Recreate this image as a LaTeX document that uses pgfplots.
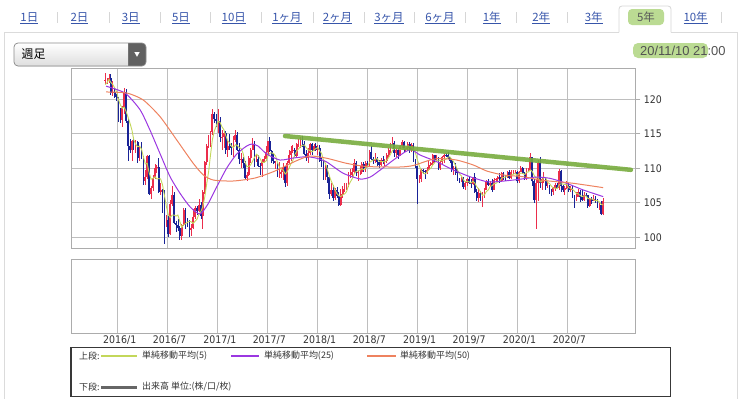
\documentclass[border=0pt]{standalone}
\usepackage{pgfplots}
\pgfplotsset{compat=1.18}
\usepackage{pgfplotstable}
\usepackage{fontspec}
\setmainfont{Liberation Sans}
\newfontfamily\jp{Noto Sans CJK JP}
\newfontfamily\cond{DejaVu Sans Condensed}
\definecolor{candred}{RGB}{235,45,75}
\definecolor{candblue}{RGB}{25,35,150}
\definecolor{smaA}{RGB}{195,215,90}
\definecolor{smaB}{RGB}{155,55,225}
\definecolor{smaC}{RGB}{238,130,95}
\definecolor{trend}{RGB}{120,172,62}
\definecolor{gridc}{RGB}{190,190,190}
\definecolor{framec}{RGB}{172,172,172}
\definecolor{tabblue}{RGB}{55,85,170}
\definecolor{hl}{RGB}{170,210,120}

\pgfplotstableread{
w o h l c
1 122.6 123.8 122.2 122.8
2 122.8 123.1 122.2 122.8
3 122.8 123.7 122.3 123.1
4 123.1 123.6 120.6 120.9
5 120.9 122.6 120.5 121.1
6 121.1 121.5 120.2 120.3
7 120.3 120.7 119.8 120.2
8 120.2 120.4 116.7 117.2
9 117.2 118.8 116.5 117.0
10 117.0 119.0 115.98 118.8
11 118.8 121.7 117.8 121.1
12 121.1 121.5 116.5 116.9
13 116.9 117.3 111.0 113.2
14 113.2 114.2 112.2 112.6
15 112.6 114.1 111.0 113.9
16 113.9 114.6 112.7 113.8
17 113.8 114.1 112.2 113.8
18 113.8 114.0 110.7 111.5
19 111.5 113.3 111.0 113.1
20 113.1 113.8 111.4 111.7
21 111.7 111.8 107.6 108.1
22 108.1 109.8 107.6 108.8
23 108.8 111.9 108.5 111.8
24 111.8 111.9 106.1 106.3
25 106.3 107.5 105.55 107.1
26 107.1 109.1 106.7 108.6
27 108.6 110.6 108.5 110.1
28 110.1 110.5 109.3 110.2
29 110.2 111.45 106.4 106.5
30 106.5 107.9 106.2 106.9
31 106.9 107.0 103.55 104.2
32 104.2 106.8 99.0 102.2
33 102.2 103.3 101.5 102.5
34 102.5 103.1 99.99 100.5
35 100.5 105.4 100.4 104.9
36 104.9 107.5 104.6 106.1
37 106.1 106.5 101.9 102.1
38 102.1 102.3 100.7 101.8
39 101.8 102.7 100.9 101.3
40 101.3 101.6 99.55 100.2
41 100.2 102.0 99.6 101.8
42 101.8 104.3 101.6 104.0
43 104.0 104.2 101.2 102.6
44 102.6 102.8 101.5 102.3
45 102.3 102.5 100.1 101.0
46 101.0 101.9 100.2 101.3
47 101.3 104.1 101.2 102.9
48 102.9 104.6 102.7 104.2
49 104.2 104.5 103.3 103.8
50 103.8 105.5 103.6 104.7
51 104.7 105.1 102.6 103.1
52 103.1 106.9 101.2 106.6
53 106.6 111.0 106.3 110.9
54 110.9 113.5 110.5 113.2
55 113.2 114.8 112.9 113.5
56 113.5 115.4 113.1 115.3
57 115.3 118.66 114.8 117.9
58 117.9 118.2 116.6 117.1
59 117.1 117.8 116.0 116.9
60 116.9 118.6 115.1 116.9
61 116.9 117.5 113.8 114.5
62 114.5 115.6 112.6 114.6
63 114.6 115.4 112.9 115.1
64 115.1 115.4 112.1 112.6
65 112.6 113.9 111.6 113.2
66 113.2 114.9 112.6 112.9
67 112.9 113.6 111.9 112.1
68 112.1 114.7 111.7 114.1
69 114.1 115.5 113.8 114.8
70 114.8 115.2 112.6 112.7
71 112.7 113.6 110.6 111.3
72 111.3 112.2 110.1 111.4
73 111.4 111.6 110.1 110.8
74 110.8 111.0 108.5 108.6
75 108.6 109.5 108.1 109.0
76 109.0 111.8 108.9 111.5
77 111.5 112.9 110.8 112.7
78 112.7 114.4 112.6 113.4
79 113.4 114.0 110.2 111.3
80 111.3 112.1 110.9 111.3
81 111.3 111.9 110.2 110.4
82 110.4 110.8 109.1 110.3
83 110.3 111.4 108.8 110.9
84 110.9 111.8 110.8 111.3
85 111.3 113.2 111.1 112.4
86 112.4 114.0 111.8 113.9
87 113.9 114.5 112.3 112.5
88 112.5 112.7 110.7 111.1
89 111.1 112.2 110.6 110.7
90 110.7 111.1 109.9 110.7
91 110.7 110.9 108.7 109.2
92 109.2 110.9 108.6 109.2
93 109.2 109.8 108.6 109.4
94 109.4 110.7 108.3 110.2
95 110.2 110.3 107.3 107.8
96 107.8 111.0 107.5 110.8
97 110.8 112.7 110.6 112.0
98 112.0 113.3 111.1 112.5
99 112.5 113.4 112.2 112.6
100 112.6 112.9 111.7 111.8
101 111.8 113.6 111.6 113.5
102 113.5 114.3 113.1 113.7
103 113.7 114.5 113.0 114.1
104 114.1 114.7 113.1 113.5
105 113.5 113.9 112.0 112.1
106 112.1 112.7 111.1 111.5
107 111.5 113.0 110.8 112.2
108 112.2 113.6 112.0 113.5
109 113.5 113.7 112.0 112.6
110 112.6 113.5 112.5 113.3
111 113.3 113.7 112.5 112.7
112 112.7 113.4 112.0 113.0
113 113.0 113.4 110.9 111.0
114 111.0 111.5 110.2 110.8
115 110.8 111.0 108.3 108.6
116 108.6 110.5 108.3 110.2
117 110.2 110.5 107.9 108.8
118 108.8 108.9 105.55 106.3
119 106.3 107.9 106.0 106.9
120 106.9 107.6 105.25 105.7
121 105.7 107.1 105.4 106.8
122 106.8 107.3 105.7 106.0
123 106.0 106.6 104.6 104.7
124 104.7 107.0 104.6 106.3
125 106.3 107.5 105.7 107.0
126 107.0 107.8 106.6 107.4
127 107.4 107.9 106.9 107.6
128 107.6 109.5 107.3 109.0
129 109.0 109.9 108.6 109.1
130 109.1 110.0 108.7 109.4
131 109.4 111.4 109.3 110.8
132 110.8 111.1 108.9 109.4
133 109.4 109.8 108.1 109.5
134 109.5 110.3 109.1 109.5
135 109.5 110.9 109.2 110.6
136 110.6 110.9 109.4 110.0
137 110.0 111.0 109.4 110.8
138 110.8 111.1 110.3 110.5
139 110.5 112.6 110.2 112.4
140 112.4 113.2 111.2 111.4
141 111.4 111.6 110.6 111.0
142 111.0 112.2 110.8 111.3
143 111.3 111.6 110.3 110.9
144 110.9 111.2 110.1 110.5
145 110.5 111.5 110.3 111.2
146 111.2 111.8 110.6 111.0
147 111.0 111.4 110.4 111.0
148 111.0 112.2 110.8 112.0
149 112.0 112.9 111.7 112.6
150 112.6 113.7 112.2 113.7
151 113.7 114.55 113.4 113.7
152 113.7 113.9 111.6 112.2
153 112.2 112.8 111.6 112.6
154 112.6 112.9 111.4 111.9
155 111.9 113.4 111.8 113.2
156 113.2 114.1 112.9 113.8
157 113.8 114.0 112.3 112.8
158 112.8 113.0 112.3 112.9
159 112.9 113.8 112.6 113.5
160 113.5 113.8 112.2 112.7
161 112.7 113.6 112.3 113.4
162 113.4 113.7 110.9 111.2
163 111.2 111.4 110.0 110.3
164 110.3 110.4 104.9 108.5
165 108.5 109.0 107.8 108.5
166 108.5 109.9 108.0 109.8
167 109.8 109.9 109.2 109.6
168 109.6 109.8 108.5 109.5
169 109.5 110.2 109.2 109.7
170 109.7 111.1 109.6 110.5
171 110.5 110.9 110.3 110.7
172 110.7 112.1 110.4 111.9
173 111.9 112.0 110.8 111.2
174 111.2 111.9 110.9 111.5
175 111.5 111.7 109.8 110.1
176 110.1 111.0 109.7 110.9
177 110.9 111.8 110.6 111.7
178 111.7 112.1 110.8 112.0
179 112.0 112.2 111.6 111.9
180 111.9 112.4 111.4 111.6
181 111.6 111.7 110.8 111.1
182 111.1 111.2 109.5 109.9
183 109.9 110.3 109.0 110.1
184 110.1 110.7 109.1 109.3
185 109.3 109.9 108.2 108.3
186 108.3 108.6 107.8 108.2
187 108.2 108.8 108.0 108.6
188 108.6 108.8 107.0 107.3
189 107.3 108.1 106.8 107.9
190 107.9 108.6 107.5 108.5
191 108.5 108.9 107.8 107.9
192 107.9 108.4 107.2 107.7
193 107.7 108.8 107.6 108.7
194 108.7 109.3 106.5 106.6
195 106.6 107.0 105.3 105.7
196 105.7 107.1 105.1 106.4
197 106.4 106.7 105.3 105.4
198 105.4 106.6 104.4 106.3
199 106.3 107.2 105.7 106.9
200 106.9 108.3 106.8 108.1
201 108.1 108.4 107.5 107.6
202 107.6 108.2 107.3 107.9
203 107.9 108.5 106.5 106.9
204 106.9 108.6 106.8 108.3
205 108.3 108.6 108.1 108.4
206 108.4 108.9 108.2 108.7
207 108.7 109.3 107.9 108.2
208 108.2 109.5 108.0 109.3
209 109.3 109.5 108.3 108.8
210 108.8 109.1 108.2 108.7
211 108.7 109.6 108.6 109.5
212 109.5 109.7 108.4 108.6
213 108.6 109.7 108.4 109.4
214 109.4 109.7 109.2 109.4
215 109.4 109.7 109.2 109.4
216 109.4 109.6 107.9 108.1
217 108.1 109.6 107.8 109.5
218 109.5 110.3 109.4 110.1
219 110.1 110.2 109.2 109.3
220 109.3 109.5 108.3 108.4
221 108.4 110.0 108.3 109.8
222 109.8 110.1 109.6 109.8
223 109.8 112.2 109.7 111.6
224 111.6 111.7 107.5 108.1
225 108.1 108.5 105.0 105.4
226 105.4 108.4 101.2 107.9
227 107.9 111.2 105.2 110.8
228 110.8 111.7 107.2 107.9
229 107.9 108.7 106.9 108.5
230 108.5 109.4 107.9 108.5
231 108.5 108.7 106.9 107.5
232 107.5 108.1 107.2 107.5
233 107.5 107.6 106.35 106.9
234 106.9 107.0 106.0 106.6
235 106.6 107.3 106.1 107.1
236 107.1 107.9 106.7 107.6
237 107.6 107.9 107.1 107.1
238 107.1 109.85 106.9 109.6
239 109.6 109.8 106.6 107.4
240 107.4 107.6 106.6 106.9
241 106.9 107.4 106.1 107.2
242 107.2 108.2 107.0 107.5
243 107.5 107.8 106.6 106.9
244 106.9 107.5 106.6 107.0
245 107.0 107.4 105.7 106.1
246 106.1 106.2 104.2 105.9
247 105.9 106.5 105.3 105.9
248 105.9 107.0 105.8 106.6
249 106.6 106.9 105.1 105.8
250 105.8 107.05 105.2 105.4
251 105.4 106.5 105.2 106.2
252 106.2 106.4 105.9 106.1
253 106.1 106.2 104.3 104.6
254 104.6 105.7 104.4 105.6
255 105.6 105.8 104.9 105.3
256 105.3 106.1 105.2 105.6
257 105.6 106.0 105.0 105.4
258 105.4 105.5 104.3 104.7
259 104.7 105.0 104.0 104.7
260 104.7 105.3 103.2 103.4
261 103.4 105.65 103.2 105.3
}\ohlc

\pgfplotstableread{
w s
1 122.14
2 122.40
3 122.90
4 122.44
5 122.14
6 121.64
7 121.12
8 119.94
9 119.16
10 118.70
11 118.86
12 118.20
13 117.40
14 116.52
15 115.54
16 114.08
17 113.46
18 113.12
19 113.22
20 112.78
21 111.64
22 110.64
23 110.70
24 109.34
25 108.42
26 108.52
27 108.78
28 108.46
29 108.50
30 108.46
31 107.58
32 106.00
33 104.46
34 103.26
35 102.86
36 103.24
37 103.22
38 103.08
39 103.24
40 102.30
41 101.44
42 101.82
43 101.98
44 102.18
45 102.34
46 102.24
47 102.02
48 102.34
49 102.64
50 103.38
51 103.74
52 104.48
53 105.82
54 107.70
55 109.46
56 111.90
57 114.16
58 115.40
59 116.14
60 116.82
61 116.66
62 116.00
63 115.60
64 114.74
65 114.00
66 113.68
67 113.18
68 112.98
69 113.42
70 113.32
71 113.00
72 112.86
73 112.20
74 110.96
75 110.22
76 110.26
77 110.52
78 111.04
79 111.58
80 112.04
81 111.82
82 111.34
83 110.84
84 110.84
85 111.06
86 111.76
87 112.20
88 112.24
89 112.12
90 111.78
91 110.84
92 110.18
93 109.84
94 109.74
95 109.16
96 109.48
97 110.04
98 110.66
99 111.14
100 111.94
101 112.48
102 112.82
103 113.14
104 113.32
105 113.38
106 112.98
107 112.68
108 112.56
109 112.38
110 112.62
111 112.86
112 113.02
113 112.52
114 112.16
115 111.22
116 110.72
117 109.88
118 108.94
119 108.16
120 107.58
121 106.90
122 106.34
123 106.02
124 105.90
125 106.16
126 106.28
127 106.60
128 107.46
129 108.02
130 108.50
131 109.18
132 109.54
133 109.64
134 109.72
135 109.96
136 109.80
137 110.08
138 110.28
139 110.86
140 111.02
141 111.22
142 111.32
143 111.40
144 111.02
145 110.98
146 110.98
147 110.92
148 111.14
149 111.56
150 112.06
151 112.60
152 112.84
153 112.96
154 112.82
155 112.72
156 112.74
157 112.86
158 112.92
159 113.24
160 113.14
161 113.06
162 112.74
163 112.22
164 111.22
165 110.38
166 109.66
167 109.34
168 109.18
169 109.42
170 109.82
171 110.00
172 110.46
173 110.80
174 111.16
175 111.08
176 111.12
177 111.08
178 111.24
179 111.32
180 111.62
181 111.66
182 111.30
183 110.92
184 110.40
185 109.74
186 109.16
187 108.90
188 108.34
189 108.06
190 108.10
191 108.04
192 107.86
193 108.14
194 107.88
195 107.32
196 107.02
197 106.56
198 106.08
199 106.14
200 106.62
201 106.86
202 107.36
203 107.48
204 107.76
205 107.82
206 108.04
207 108.10
208 108.58
209 108.68
210 108.74
211 108.90
212 108.98
213 109.00
214 109.12
215 109.26
216 108.98
217 109.16
218 109.30
219 109.28
220 109.08
221 109.42
222 109.48
223 109.78
224 109.54
225 108.94
226 108.56
227 108.76
228 108.02
229 108.10
230 108.72
231 108.64
232 107.98
233 107.78
234 107.40
235 107.12
236 107.14
237 107.06
238 107.60
239 107.76
240 107.72
241 107.64
242 107.72
243 107.18
244 107.10
245 106.94
246 106.68
247 106.36
248 106.30
249 106.06
250 105.92
251 105.98
252 106.02
253 105.62
254 105.58
255 105.56
256 105.44
257 105.30
258 105.32
259 105.14
260 104.76
261 104.70
}\smafive

\pgfplotsset{candle/.style={forget plot, draw=none, mark=none,
  error bars/y dir=both, error bars/y explicit, error bars/error mark=none}}

\begin{document}
\begin{tikzpicture}
\path[use as bounding box] (0,0) rectangle (749bp,-399bp);
\begin{scope}[x=1bp,y=-1bp]
% panel frame
\draw[line width=0.8bp, black!14] (4,399) -- (4,32) -- (619,32);
\draw[line width=0.8bp, black!14] (671,32) -- (737,32) -- (737,399);
\draw[line width=0.8bp, black!16, fill=white, rounded corners=3bp] (619,32.4) -- (619,6) -- (671,6) -- (671,32.4);
% highlights
\fill[hl, opacity=0.8, rounded corners=4bp] (628,9) rectangle (664,25);
\fill[hl, opacity=0.8, rounded corners=5bp] (633,43) rectangle (708,58);
% tab separators
\foreach \s in {57.3,108.9,160,210.2,261.8,313,364,414.7,465.8,516.5,567.8,721.8}
  \draw[black!16, line width=0.7bp] (\s,12) -- (\s,23);
% tab labels
\foreach \x/\t in {29.4/1日,79.5/2日,130.7/3日,181/5日,233.8/10日,287/1ヶ月,337.5/2ヶ月,389/3ヶ月,440/6ヶ月,491.7/1年,541.2/2年,593.7/3年,695.6/10年}
  \node[anchor=base, inner sep=0, text=tabblue] at (\x,21) {\jp\fontsize{11.5}{12}\selectfont\underline{\t}};
\node[anchor=base, inner sep=0, text=black!65] at (646,21) {\jp\fontsize{11.5}{12}\selectfont 5年};
% dropdown
\fill[black!62, rounded corners=4bp] (14,43) rectangle (146,66);
\shade[top color=white, bottom color=black!13] (128,43) [rounded corners=4bp] -- (14,43) -- (14,66) [sharp corners] -- (128,66) -- cycle;
\draw[black!45, line width=0.7bp, rounded corners=4bp] (14,43) rectangle (146,66);
\fill[white] (134.3,52) -- (139.7,52) -- (137,56.8) -- cycle;
\node[anchor=west, inner sep=0] at (21.5,54.5) {\jp\fontsize{12}{13}\selectfont 週足};
% timestamp
\node[anchor=west, inner sep=0, text=black!68] at (640,50.5) {\fontsize{13}{14}\selectfont 20/11/10 21:00};
% legend
\draw[black!78, line width=1.1bp] (71,347.7) rectangle (670.3,396.5);
\node[anchor=west, inner sep=0, text=black!80] at (79,356) {\jp\fontsize{9}{10}\selectfont 上段:};
\draw[smaA, line width=1.2bp] (101,356) -- (137,356);
\node[anchor=west, inner sep=0, text=black!80] at (142,356) {\jp\fontsize{9}{10}\selectfont 単純移動平均(5)};
\draw[smaB, line width=1.2bp] (231,356) -- (259,356);
\node[anchor=west, inner sep=0, text=black!80] at (264,356) {\jp\fontsize{9}{10}\selectfont 単純移動平均(25)};
\draw[smaC, line width=1.2bp] (367,356) -- (396,356);
\node[anchor=west, inner sep=0, text=black!80] at (400,356) {\jp\fontsize{9}{10}\selectfont 単純移動平均(50)};
\node[anchor=west, inner sep=0, text=black!80] at (79,387) {\jp\fontsize{9}{10}\selectfont 下段:};
\draw[black!60, line width=3bp] (101,387) -- (137,387);
\node[anchor=west, inner sep=0, text=black!80] at (142,387) {\jp\fontsize{9}{10}\selectfont 出来高 単位:(株/口/枚)};
\end{scope}

\begin{axis}[
  at={(71bp,-248.3bp)}, anchor=south west, scale only axis,
  width=564.3bp, height=180bp,
  xmin=-16.81, xmax=277.77, ymin=98.41, ymax=124.49,
  axis line style={framec, line width=0.9bp},
  xtick={7.57,33.57,59.87,85.67,111.97,137.87,164.17,189.97,216.27,242.27},
  xticklabels={}, xtick style={draw=none},
  ytick={100,105,110,115,120}, yticklabels={100,105,110,115,120},
  ytick pos=right, yticklabel pos=right, tick align=outside, major tick length=5bp,
  ytick style={framec, line width=0.9bp},
  yticklabel style={font=\cond\fontsize{10.5}{12}\selectfont, text=black!80},
  grid=major, grid style={gridc, line width=0.9bp},
]
% wicks
\addplot[candle, restrict expr to domain={\thisrow{c}-\thisrow{o}}{0:1000},
  error bars/error bar style={draw=candred, line width=0.75bp}]
  table[x=w, y=c, y error plus expr=\thisrow{h}-\thisrow{c}, y error minus expr=\thisrow{c}-\thisrow{l}] {\ohlc};
\addplot[candle, restrict expr to domain={\thisrow{c}-\thisrow{o}}{-1000:-0.001},
  error bars/error bar style={draw=candblue, line width=0.75bp}]
  table[x=w, y=c, y error plus expr=\thisrow{h}-\thisrow{c}, y error minus expr=\thisrow{c}-\thisrow{l}] {\ohlc};
% bodies
\addplot[candle, restrict expr to domain={\thisrow{c}-\thisrow{o}}{0:1000},
  error bars/error bar style={draw=candred, line width=1.8bp}]
  table[x=w, y=c, y error plus expr=0, y error minus expr=\thisrow{c}-\thisrow{o}] {\ohlc};
\addplot[candle, restrict expr to domain={\thisrow{c}-\thisrow{o}}{-1000:-0.001},
  error bars/error bar style={draw=candblue, line width=1.8bp}]
  table[x=w, y=c, y error plus expr=\thisrow{o}-\thisrow{c}, y error minus expr=0] {\ohlc};
% SMA 5
\addplot[smaA, line width=0.9bp, no marks] table[x=w, y=s] {\smafive};
% SMA 25
\addplot[smaB, line width=1bp, no marks, smooth, tension=0.4] coordinates {
(1.5,121.9) (11.4,120.9) (19.2,118.5) (24.4,115.55) (29.6,112.17) (34.9,108.78) (40.1,106.38) (45.3,104.43) (50.5,103.38) (54.7,104.83) (59.3,107.33) (64.5,110.04) (69.7,112.07) (74.9,113.23) (77.7,113.52) (80.8,113.23) (85.4,112.07) (92.3,111.2) (99.2,111.49) (106.2,111.68) (111.5,111.45) (116.7,110.91) (125.3,109.28) (134.2,108.45) (139.4,108.74) (144.6,109.75) (151.5,111.2) (157.5,112.36) (161,112.72) (165.4,111.93) (174.1,110.96) (182.8,109.75) (191.5,108.78) (200.2,108.06) (205.4,108.06) (214.1,108.3) (221.1,108.55) (226.3,108.74) (233.2,108.55) (241.9,107.83) (250.6,106.86) (261,105.9)
};
% SMA 50
\addplot[smaC, line width=1bp, no marks, smooth, tension=0.4] coordinates {
(1.5,121.06) (12.3,120.91) (20.9,119.9) (29.7,117.48) (38.4,114.1) (47,110.72) (52.3,109.03) (57.5,108.3) (67.8,108.16) (79.2,108.59) (89.7,109.61) (100.6,111.06) (108,111.78) (116.8,111.45) (127.1,110.72) (137.6,110.26) (154.9,110.19) (161.9,110.41) (170.6,111.2) (175.8,111.42) (184.5,111.2) (193.2,110.48) (200.2,109.61) (208.9,109.03) (219.3,108.78) (228,108.3) (236.7,108.06) (245.4,107.83) (261,107.2)
};
% trend line
\addplot[trend, opacity=0.9, line width=4.5bp, line cap=round, no marks] coordinates {(94.9,114.68) (275.5,109.78)};
\end{axis}

\begin{axis}[
  at={(71bp,-333.7bp)}, anchor=south west, scale only axis,
  width=564.3bp, height=74.7bp,
  xmin=-16.81, xmax=277.77, ymin=0, ymax=1,
  axis line style={framec, line width=0.9bp},
  xtick={7.57,33.57,59.87,85.67,111.97,137.87,164.17,189.97,216.27,242.27},
  xticklabels={2016/1,2016/7,2017/1,2017/7,2018/1,2018/7,2019/1,2019/7,2020/1,2020/7},
  xtick style={draw=none}, ytick=\empty,
  xmajorgrids, grid style={gridc, line width=0.9bp},
  xticklabel style={font=\cond\fontsize{10.5}{12}\selectfont, text=black!80, xshift=2bp, yshift=1.5bp},
]
\end{axis}
\end{tikzpicture}
\end{document}
